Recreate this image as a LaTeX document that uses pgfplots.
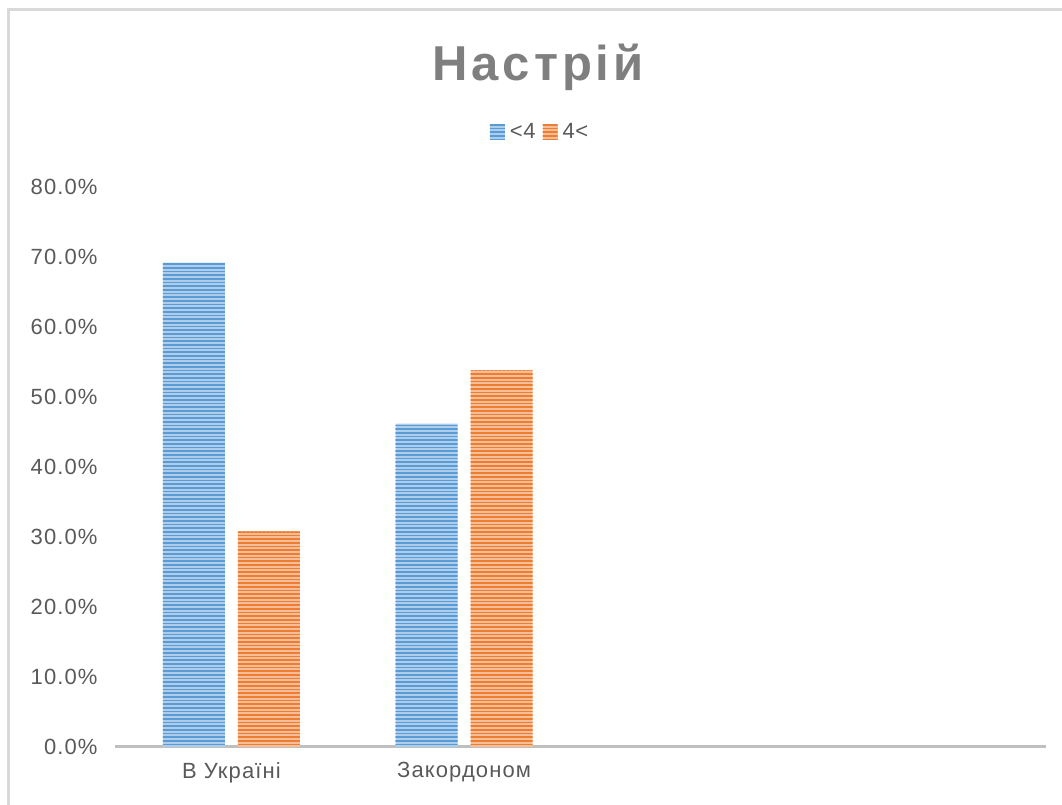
\documentclass[border=0pt]{standalone}
\usepackage{fontspec}
\setmainfont{Liberation Sans}
\usepackage{pgfplots}
\pgfplotsset{compat=1.18}
\usetikzlibrary{patterns.meta}

\definecolor{barblue}{HTML}{5B9BD5}
\definecolor{barorange}{HTML}{ED7D31}
\definecolor{txtgray}{HTML}{595959}
\definecolor{titlegray}{HTML}{7F7F7F}
\definecolor{axisgray}{HTML}{BFBFBF}
\definecolor{framegray}{HTML}{D9D9D9}

% thin horizontal stripes used to shade the bars
\pgfdeclarepattern{
  name=hstripes,
  type=uncolored,
  bottom left={\pgfpoint{-1pt}{0pt}},
  top right={\pgfpoint{5pt}{3.6667pt}},
  tile size={\pgfpoint{4pt}{3.6667pt}},
  code={
    \pgfsetlinewidth{1.6pt}
    \pgfpathmoveto{\pgfpoint{-1pt}{1.8333pt}}
    \pgfpathlineto{\pgfpoint{5pt}{1.8333pt}}
    \pgfusepath{stroke}
  }
}

\begin{document}
\begin{tikzpicture}
\useasboundingbox (0,0) rectangle (1062pt,805pt);
% chart frame
\draw[framegray, line width=3pt] (8pt,-5pt) -- (8pt,795pt) -- (1070pt,795pt);
% title
\node[text=titlegray, font=\fontsize{49}{56}\selectfont\bfseries\addfontfeature{LetterSpace=8}]
  at (538pt,738pt) {Настрій};
\begin{axis}[
  at={(115pt,58pt)}, anchor=south west,
  scale only axis,
  width=931pt, height=560pt,
  ymin=0, ymax=80,
  xmin=-0.5, xmax=3.5,
  ybar=13pt, bar width=62pt,
  axis x line=bottom, axis y line=left,
  x axis line style={-, draw=axisgray, line width=3pt},
  y axis line style={draw=none},
  xtick={0,1}, xticklabels={В Україні, Закордоном},
  ytick={0,10,...,80},
  major tick length=0pt,
  yticklabel={\pgfmathprintnumber[fixed,fixed zerofill,precision=1]{\tick}\%},
  /pgf/number format/assume math mode=true,
  ticklabel style={text=txtgray, font=\fontsize{22}{26}\selectfont\addfontfeature{LetterSpace=5}},
  yticklabel style={xshift=-14pt},
  xticklabel style={yshift=-12pt},
  legend style={at={(0.4565,1.098)}, anchor=center, draw=none, fill=none,
    legend columns=2, font=\fontsize{22}{26}\selectfont\addfontfeature{LetterSpace=3}, text=txtgray,
    /tikz/every odd column/.append style={column sep=3pt},
    /tikz/every even column/.append style={column sep=5pt}},
  legend image code/.code={\path[#1] (0pt,-7.5pt) rectangle (15pt,7.5pt);},
]
\addplot[draw=none, fill=barblue!50!white,
  postaction={pattern=hstripes, pattern color=barblue}]
  coordinates {(0,69.2) (1,46.2)};
\addplot[draw=none, fill=barorange!50!white,
  postaction={pattern=hstripes, pattern color=barorange}]
  coordinates {(0,30.8) (1,53.8)};
\legend{<4, 4<}
\end{axis}
\end{tikzpicture}
\end{document}
